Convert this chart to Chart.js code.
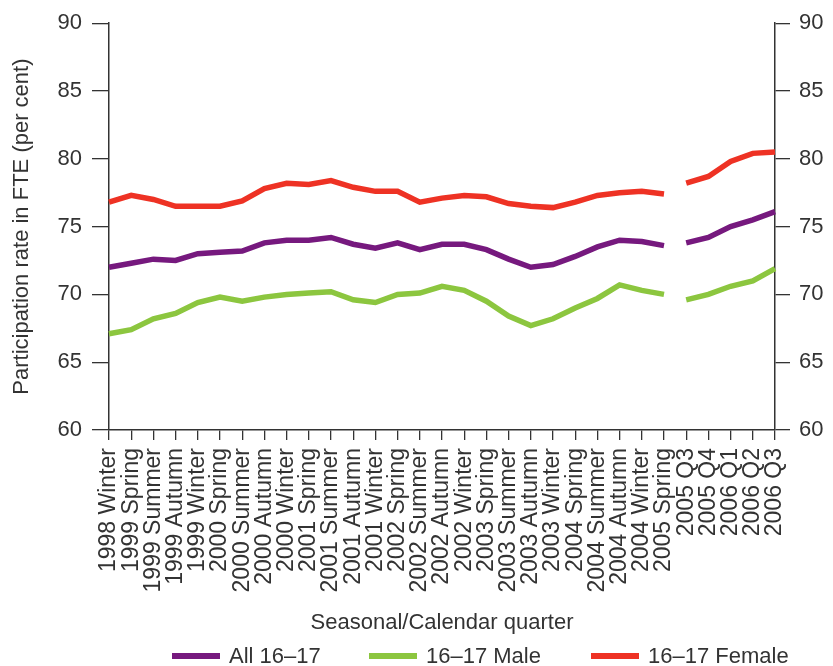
<!DOCTYPE html>
<html>
<head>
<meta charset="utf-8">
<script src="https://cdn.jsdelivr.net/npm/chart.js@4"></script>
<style>
    body { margin: 0; background: #fff; }
    #wrap { position: relative; width: 833px; height: 666px; }
    #legend { position: absolute; left: 0; top: 0; width: 833px; height: 666px; pointer-events: none;
              font-family: 'Liberation Sans', Arial, sans-serif; font-size: 22px; color: #333; }
    .item { position: absolute; top: 643px; display: flex; align-items: center; height: 26px; }
    .swatch { width: 48px; height: 6px; margin-right: 9px; }
</style>
</head>
<body>
<div id="wrap">
    <canvas id="fteChart" width="833" height="666"></canvas>
    <div id="legend"></div>
</div>
<script>
const quarters = ['1998 Winter', '1999 Spring', '1999 Summer', '1999 Autumn', '1999 Winter', '2000 Spring',
    '2000 Summer', '2000 Autumn', '2000 Winter', '2001 Spring', '2001 Summer', '2001 Autumn', '2001 Winter',
    '2002 Spring', '2002 Summer', '2002 Autumn', '2002 Winter', '2003 Spring', '2003 Summer', '2003 Autumn',
    '2003 Winter', '2004 Spring', '2004 Summer', '2004 Autumn', '2004 Winter', '2005 Spring',
    '2005 Q3', '2005 Q4', '2006 Q1', '2006 Q2', '2006 Q3'];

const all1617 = [72.0, 72.3, 72.6, 72.5, 73.0, 73.1, 73.2, 73.8, 74.0, 74.0, 74.2, 73.7, 73.4, 73.8, 73.3, 73.7,
    73.7, 73.3, 72.6, 72.0, 72.2, 72.8, 73.5, 74.0, 73.9, 73.6, 73.8, 74.2, 75.0, 75.5, 76.1];
const male1617 = [67.1, 67.4, 68.2, 68.6, 69.4, 69.8, 69.5, 69.8, 70.0, 70.1, 70.2, 69.6, 69.4, 70.0, 70.1, 70.6,
    70.3, 69.5, 68.4, 67.7, 68.2, 69.0, 69.7, 70.7, 70.3, 70.0, 69.6, 70.0, 70.6, 71.0, 71.9];
const female1617 = [76.8, 77.3, 77.0, 76.5, 76.5, 76.5, 76.9, 77.8, 78.2, 78.1, 78.4, 77.9, 77.6, 77.6, 76.8, 77.1,
    77.3, 77.2, 76.7, 76.5, 76.4, 76.8, 77.3, 77.5, 77.6, 77.4, 78.2, 78.7, 79.8, 80.4, 80.5];

const seriesNames = ['All 16–17', '16–17 Male', '16–17 Female'];
const seriesColors = ['#76197e', '#8cc63f', '#ee3224'];

// the series switch from seasons to calendar quarters after 2005 Spring: no line across the break
const breakAfter = quarters.indexOf('2005 Spring');

const textColor = '#333';
const fontFamily = "'Liberation Sans', Arial, sans-serif";

function makeDataset(label, data, color) {
    return {
        label: label,
        data: data,
        borderColor: color,
        backgroundColor: color,
        borderWidth: 5.5,
        pointRadius: 0,
        tension: 0,
        fill: false,
        segment: {
            borderColor: ctx => ctx.p0DataIndex === breakAfter ? 'rgba(0,0,0,0)' : undefined
        }
    };
}

const yTicks = {
    color: textColor,
    font: { family: fontFamily, size: 22 },
    stepSize: 5
};

const ctx = document.getElementById('fteChart').getContext('2d');

const fteChart = new Chart(ctx, {
    type: 'line',
    data: {
        labels: quarters,
        datasets: [
            makeDataset(seriesNames[0], all1617, seriesColors[0]),
            makeDataset(seriesNames[1], male1617, seriesColors[1]),
            makeDataset(seriesNames[2], female1617, seriesColors[2])
        ]
    },
    options: {
        responsive: false,
        animation: false,
        layout: {
            padding: { top: 19, bottom: 30, left: 0, right: 0 }
        },
        plugins: {
            legend: { display: false },
            tooltip: { enabled: false }
        },
        scales: {
            x: {
                offset: false,
                grid: { drawOnChartArea: false, tickLength: 10, color: textColor, lineWidth: 1.3 },
                border: { color: textColor, width: 1.5 },
                ticks: {
                    color: textColor,
                    font: { family: fontFamily, size: 23 },
                    minRotation: 90,
                    maxRotation: 90,
                    autoSkip: false,
                    padding: 8
                },
                title: {
                    display: true,
                    text: 'Seasonal/Calendar quarter',
                    color: textColor,
                    font: { family: fontFamily, size: 22 },
                    padding: { top: 0, bottom: 0 }
                },
                afterFit: scale => { scale.height = 206; }
            },
            y: {
                position: 'left',
                min: 60,
                max: 90,
                grid: { drawOnChartArea: false, tickLength: 17, color: textColor, lineWidth: 1.3 },
                border: { color: textColor, width: 1.5 },
                ticks: Object.assign({ padding: 10 }, yTicks),
                title: {
                    display: true,
                    text: 'Participation rate in FTE (per cent)',
                    color: textColor,
                    font: { family: fontFamily, size: 22 },
                    padding: { top: 9, bottom: 0 }
                },
                afterFit: scale => { scale.width = 109; }
            },
            y2: {
                position: 'right',
                min: 60,
                max: 90,
                grid: { drawOnChartArea: false, tickLength: 15, color: textColor, lineWidth: 1.3 },
                border: { color: textColor, width: 1.5 },
                ticks: Object.assign({ padding: 9 }, yTicks),
                afterFit: scale => { scale.width = 58; }
            }
        }
    }
});

// legend below the axis title
const legendLefts = [172, 369, 591];
const legend = document.getElementById('legend');
seriesNames.forEach((name, i) => {
    const item = document.createElement('div');
    item.className = 'item';
    item.style.left = legendLefts[i] + 'px';
    const swatch = document.createElement('span');
    swatch.className = 'swatch';
    swatch.style.background = seriesColors[i];
    const text = document.createElement('span');
    text.textContent = name;
    item.appendChild(swatch);
    item.appendChild(text);
    legend.appendChild(item);
});
</script>
</body>
</html>
